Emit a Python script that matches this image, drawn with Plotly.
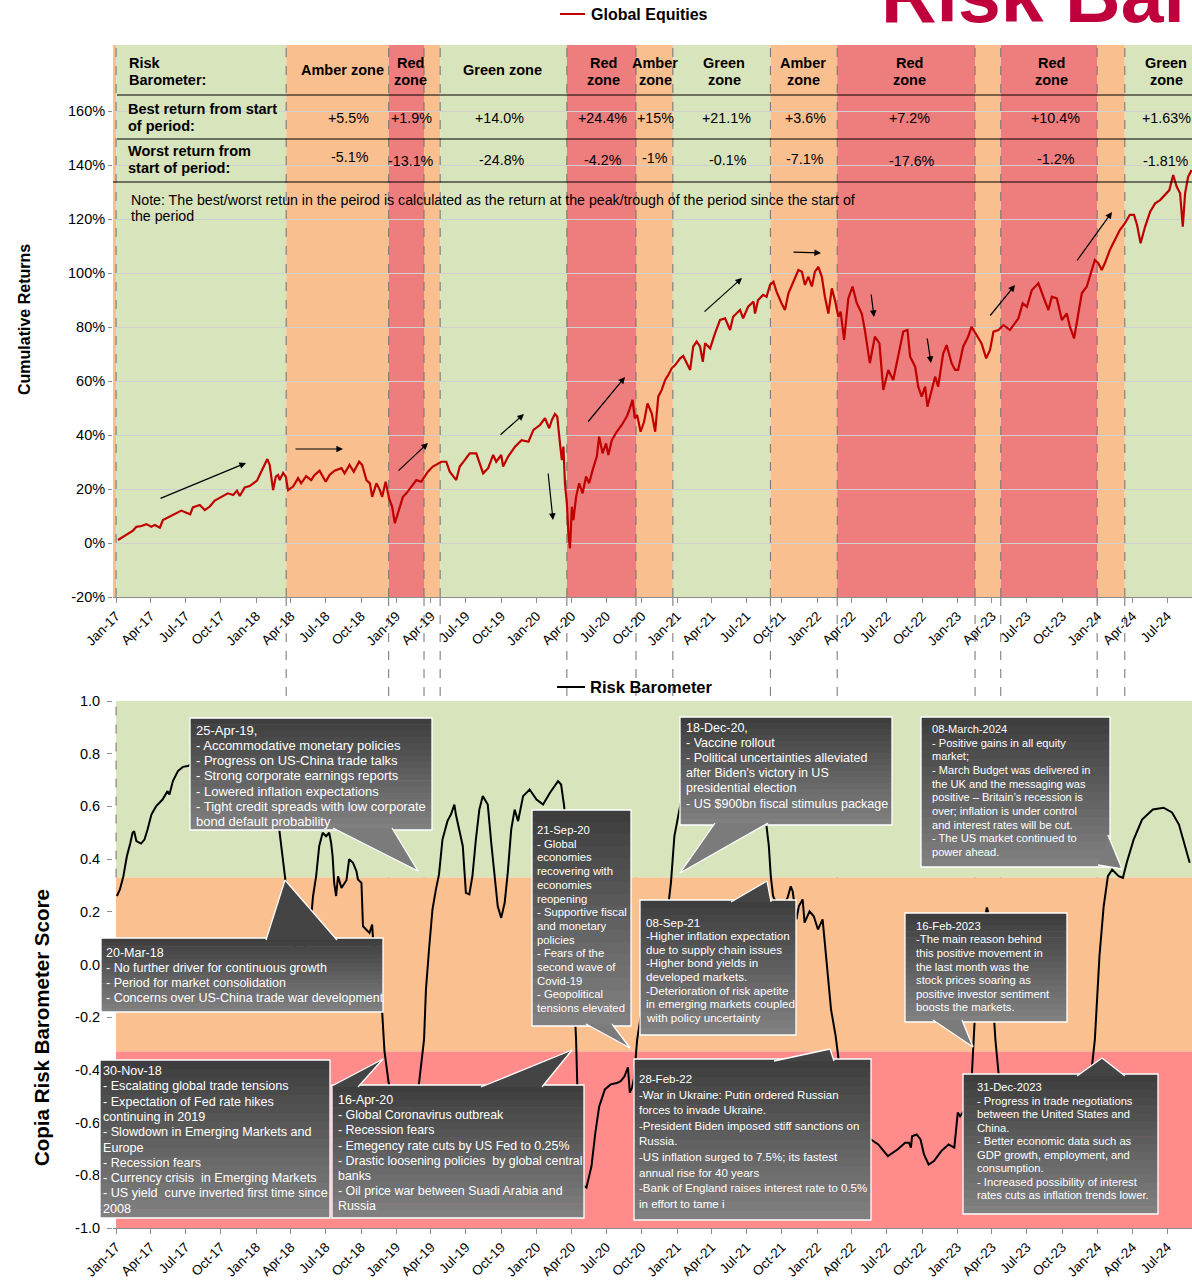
import datetime as dt
import pandas as pd
import plotly.graph_objects as go

# ---------------------------------------------------------------- data
# Global equities, cumulative return (%) by day count from the start date
EQ_START = "2017-01-01"
eq_days = [
    5, 18, 31, 44, 53, 66, 79, 92, 101, 114,
    122, 140, 157, 170, 183, 193, 200, 218, 231, 244,
    257, 274, 291, 305, 315, 322, 335, 348, 357, 367,
    378, 387, 394, 400, 409, 416, 422, 426, 435, 442,
    448, 461, 474, 482, 495, 508, 517, 530, 546, 556,
    569, 587, 595, 608, 619, 633, 641, 652, 661, 667,
    678, 687, 693, 702, 711, 719, 726, 734, 747, 756,
    769, 782, 795, 812, 825, 847, 860, 869, 886, 895,
    908, 921, 938, 947, 956, 969, 982, 990, 1003, 1008,
    1021, 1039, 1056, 1074, 1087, 1104, 1117, 1128, 1135, 1143,
    1149, 1156, 1161, 1165, 1169, 1174, 1178, 1182, 1187, 1191,
    1198, 1206, 1215, 1224, 1232, 1241, 1252, 1258, 1267, 1276,
    1282, 1291, 1304, 1317, 1330, 1338, 1345, 1351, 1357, 1366,
    1375, 1384, 1395, 1404, 1412, 1421, 1430, 1438, 1447, 1456,
    1469, 1477, 1486, 1495, 1503, 1512, 1521, 1528, 1534, 1547,
    1560, 1573, 1586, 1599, 1607, 1625, 1633, 1646, 1660, 1664,
    1672, 1685, 1694, 1703, 1712, 1720, 1733, 1742, 1751, 1764,
    1777, 1786, 1794, 1803, 1812, 1820, 1829, 1838, 1846, 1855,
    1864, 1872, 1881, 1887, 1896, 1907, 1918, 1929, 1942, 1950,
    1963, 1976, 1988, 1998, 2011, 2024, 2037, 2050, 2061, 2068,
    2081, 2089, 2098, 2107, 2113, 2120, 2133, 2141, 2154, 2163,
    2176, 2185, 2193, 2206, 2219, 2228, 2241, 2254, 2266, 2276,
    2285, 2298, 2311, 2328, 2341, 2350, 2361, 2372, 2385, 2402,
    2415, 2428, 2437, 2450, 2463, 2476, 2484, 2495, 2506, 2515,
    2528, 2541, 2549, 2558, 2567, 2575, 2588, 2601, 2614, 2627,
    2640, 2651, 2659, 2668, 2680, 2693, 2706, 2719, 2732, 2743,
    2753, 2762, 2771, 2778, 2784, 2792, 2801,
]
eq_values = [
    1.1, 2.3, 3.6, 4.6, 6.0, 6.3, 7.0, 6.0, 6.7, 5.7,
    8.5, 9.7, 11.0, 12.0, 11.2, 10.6, 13.2, 14.1, 12.2, 13.5,
    15.7, 16.9, 18.4, 17.8, 19.4, 17.4, 20.6, 21.1, 22.1, 23.1,
    26.4, 28.9, 31.1, 28.9, 19.6, 24.6, 25.2, 23.3, 26.0, 24.6,
    19.6, 20.9, 24.0, 22.1, 24.8, 23.3, 25.2, 26.8, 22.7, 25.2,
    26.8, 27.7, 25.8, 28.9, 26.4, 30.1, 28.9, 23.3, 22.1, 17.1,
    22.1, 19.6, 17.1, 22.7, 16.5, 13.4, 7.3, 11.0, 17.1, 18.4,
    20.9, 23.3, 22.7, 26.4, 28.3, 30.1, 30.1, 26.4, 23.3, 28.3,
    30.7, 33.2, 33.2, 29.5, 25.8, 27.7, 32.6, 30.1, 32.6, 28.3,
    32.0, 35.7, 38.1, 37.5, 41.9, 43.7, 46.2, 42.5, 45.6, 47.8,
    46.8, 36.9, 30.7, 35.7, 22.1, 14.7, 3.6, -2.0, 13.4, 8.5,
    17.1, 22.1, 18.4, 24.6, 22.1, 27.0, 32.0, 39.4, 33.2, 36.9,
    32.6, 38.1, 41.2, 43.7, 46.8, 49.9, 53.0, 46.2, 47.4, 41.2,
    44.9, 51.7, 48.0, 41.2, 54.2, 56.7, 60.4, 62.2, 64.7, 65.9,
    68.4, 69.3, 66.6, 64.1, 72.7, 74.6, 72.7, 67.1, 74.0, 72.1,
    77.7, 82.6, 83.2, 78.9, 83.8, 86.3, 83.2, 87.5, 89.4, 85.0,
    90.0, 91.9, 91.2, 95.6, 96.8, 93.1, 88.8, 86.3, 92.5, 96.8,
    101.1, 100.5, 95.6, 98.6, 95.0, 100.5, 102.3, 98.6, 91.2, 85.0,
    94.3, 90.0, 83.8, 85.7, 75.2, 90.6, 95.0, 88.8, 85.0, 78.9,
    66.6, 76.4, 73.9, 56.7, 64.1, 60.4, 69.0, 78.3, 78.9, 69.0,
    65.3, 57.9, 54.2, 57.9, 50.5, 54.2, 61.6, 57.9, 70.2, 73.3,
    66.6, 64.1, 64.1, 72.7, 76.4, 80.1, 77.0, 73.9, 68.4, 71.5,
    78.3, 78.9, 80.7, 78.9, 81.4, 83.2, 88.8, 87.5, 93.7, 96.2,
    91.2, 86.3, 91.2, 90.6, 82.6, 85.0, 80.1, 75.8, 85.0, 92.5,
    95.0, 101.1, 104.8, 103.6, 101.1, 103.6, 108.5, 112.2, 115.9, 118.4,
    121.5, 121.5, 117.8, 111.0, 117.2, 122.7, 125.8, 127.0, 128.9, 130.7,
    136.3, 132.0, 129.5, 117.2, 129.5, 135.7, 138.1,
]

# Copia risk barometer score
rb_dates = [
    "2017-01-03", "2017-01-11", "2017-01-20", "2017-01-29", "2017-02-07", "2017-02-13", "2017-02-17",
    "2017-02-23", "2017-03-07", "2017-03-16", "2017-03-24", "2017-04-03", "2017-04-15", "2017-05-02",
    "2017-05-15", "2017-05-20", "2017-05-29", "2017-06-11", "2017-06-24", "2017-07-07", "2017-08-07",
    "2017-09-28", "2017-11-19",
    "2018-01-10", "2018-02-06", "2018-02-22", "2018-03-02", "2018-03-17", "2018-03-28", "2018-04-15",
    "2018-05-06", "2018-05-19", "2018-05-26", "2018-05-29", "2018-06-06", "2018-06-14", "2018-06-23",
    "2018-07-02", "2018-07-10", "2018-07-15", "2018-07-19", "2018-07-23", "2018-07-28", "2018-08-02",
    "2018-08-11", "2018-08-24", "2018-08-31", "2018-09-10", "2018-09-19", "2018-09-23", "2018-10-02",
    "2018-10-06", "2018-10-15", "2018-10-23", "2018-10-30", "2018-11-01", "2018-11-14", "2018-11-25",
    "2018-12-01", "2018-12-12", "2018-12-27",
    "2019-01-23", "2019-02-13", "2019-03-01", "2019-03-14", "2019-03-19", "2019-03-27", "2019-04-05",
    "2019-04-14", "2019-04-22", "2019-05-01", "2019-05-14", "2019-05-23", "2019-06-01", "2019-06-05",
    "2019-06-14", "2019-06-23", "2019-06-27", "2019-07-01", "2019-07-10", "2019-07-18", "2019-07-27",
    "2019-08-05", "2019-08-14", "2019-08-27", "2019-09-05", "2019-09-14", "2019-09-22", "2019-10-01",
    "2019-10-10", "2019-10-18", "2019-10-27", "2019-11-05", "2019-11-14", "2019-11-27", "2019-12-14",
    "2020-01-01", "2020-01-18", "2020-02-05", "2020-02-26", "2020-03-05", "2020-03-13", "2020-03-21",
    "2020-04-01", "2020-04-09", "2020-04-13", "2020-04-16", "2020-04-22", "2020-05-02", "2020-05-10",
    "2020-05-23", "2020-06-02", "2020-06-12", "2020-06-27", "2020-07-12", "2020-07-28", "2020-08-07",
    "2020-08-17", "2020-08-26", "2020-08-31", "2020-09-06", "2020-09-11", "2020-09-19", "2020-10-09",
    "2020-11-05", "2020-11-26", "2020-12-11", "2020-12-16", "2020-12-25",
    "2021-01-22", "2021-03-01", "2021-04-22", "2021-06-13", "2021-07-22", "2021-08-10", "2021-08-22",
    "2021-08-28", "2021-09-02", "2021-09-08", "2021-09-26", "2021-10-16", "2021-10-24", "2021-10-29",
    "2021-11-08", "2021-11-14", "2021-11-24", "2021-11-29", "2021-12-12", "2021-12-23",
    "2022-01-03", "2022-01-15", "2022-01-26", "2022-02-06", "2022-02-18", "2022-03-01", "2022-03-26",
    "2022-04-26", "2022-05-21", "2022-06-09", "2022-07-04", "2022-07-29", "2022-08-18", "2022-08-28",
    "2022-09-02", "2022-09-05", "2022-09-17", "2022-09-27", "2022-10-06", "2022-10-18", "2022-11-01",
    "2022-11-20", "2022-12-09", "2022-12-24",
    "2023-01-02", "2023-01-08", "2023-01-21", "2023-02-01", "2023-02-08", "2023-02-13", "2023-02-19",
    "2023-03-01", "2023-03-12", "2023-03-19", "2023-03-25", "2023-04-02", "2023-04-10", "2023-04-18",
    "2023-05-17", "2023-07-08", "2023-08-30", "2023-10-21", "2023-11-29", "2023-12-18", "2023-12-25",
    "2024-01-06", "2024-01-17", "2024-01-28", "2024-02-08", "2024-02-25", "2024-03-07", "2024-03-17",
    "2024-04-04", "2024-04-26", "2024-05-24", "2024-06-21", "2024-07-13", "2024-07-31", "2024-08-16",
    "2024-08-28",
]
rb_values = [
    0.26, 0.285, 0.335, 0.41, 0.46, 0.50, 0.506,
    0.468, 0.459, 0.474, 0.512, 0.569, 0.60, 0.626,
    0.658, 0.645, 0.696, 0.734, 0.75, 0.753, 0.78,
    0.80, 0.82,
    0.85, 0.70, 0.60, 0.512, 0.323, 0.20, 0.05,
    0.05, 0.15, 0.21, 0.26, 0.335, 0.449, 0.50,
    0.487, 0.50, 0.462, 0.41, 0.31, 0.26, 0.335,
    0.29, 0.32, 0.40, 0.386, 0.354, 0.323, 0.31,
    0.145, 0.133, 0.12, 0.152, 0.10, 0.0, -0.18,
    -0.33, -0.45, -0.55,
    -0.60, -0.55, -0.45, -0.285, -0.095, 0.057, 0.209,
    0.285, 0.342, 0.474, 0.544, 0.569, 0.607, 0.569,
    0.512, 0.449, 0.36, 0.272, 0.266, 0.335, 0.474,
    0.588, 0.639, 0.607, 0.462, 0.323, 0.221, 0.177,
    0.234, 0.348, 0.512, 0.588, 0.544, 0.639, 0.664,
    0.626, 0.607, 0.652, 0.696, 0.683, 0.60, 0.45,
    0.10, -0.20, -0.285, -0.45, -0.70, -0.84, -0.846,
    -0.766, -0.64, -0.54, -0.474, -0.455, -0.45, -0.443,
    -0.425, -0.39, -0.486, -0.466, -0.43, -0.285, -0.10,
    0.05, 0.15, 0.247, 0.31, 0.487,
    0.70, 0.82, 0.85, 0.82, 0.70, 0.60, 0.525,
    0.449, 0.335, 0.26, 0.20, 0.254, 0.297, 0.278,
    0.171, 0.221, 0.247, 0.159, 0.202, 0.183,
    0.133, 0.171, -0.006, -0.171, -0.272, -0.40, -0.55,
    -0.62, -0.664, -0.683, -0.727, -0.702, -0.676, -0.676,
    -0.695, -0.652, -0.645, -0.664, -0.721, -0.759, -0.746,
    -0.708, -0.683, -0.695,
    -0.562, -0.576, -0.55, -0.48, -0.41, -0.285, -0.10,
    0.05, 0.17, 0.216, 0.18, -0.10, -0.285, -0.41,
    -0.55, -0.62, -0.65, -0.60, -0.50, -0.38, -0.285,
    0.032, 0.221, 0.335, 0.36, 0.335, 0.329, 0.386,
    0.474, 0.55, 0.588, 0.595, 0.577, 0.531, 0.449,
    0.386,
]

# Risk-barometer regimes shown behind the equity line
zone_starts = ["2016-12-24", "2017-01-01", "2018-03-20", "2018-12-12", "2019-03-14", "2019-04-25",
               "2020-03-20", "2020-09-16", "2020-12-21", "2021-09-01", "2022-02-22", "2023-02-16",
               "2023-04-24", "2023-12-31", "2024-03-12"]
zone_ends = zone_starts[1:] + ["2024-09-03"]
zone_kinds = ["amber", "green", "amber", "red", "amber", "green", "red", "amber", "green", "amber",
              "red", "amber", "red", "amber", "green"]

# Score bands of the barometer
band_low = [0.33, -0.33, -1.0]
band_high = [1.0, 0.33, -0.33]
band_kinds = ["green", "amber", "red"]

# Summary table above the equity line
header_labels = ["Amber zone", "Red<br>zone", "Green zone", "Red<br>zone", "Amber<br>zone",
                 "Green<br>zone", "Amber<br>zone", "Red<br>zone", "Red<br>zone", "Green<br>zone"]
best_returns = ["+5.5%", "+1.9%", "+14.0%", "+24.4%", "+15%", "+21.1%", "+3.6%", "+7.2%",
                "+10.4%", "+1.63%"]
worst_returns = ["-5.1%", "-13.1%", "-24.8%", "-4.2%", "-1%", "-0.1%", "-7.1%", "-17.6%",
                 "-1.2%", "-1.81%"]

eq_ticks = [-20, 0, 20, 40, 60, 80, 100, 120, 140, 160]
rb_ticks = [-1.0, -0.8, -0.6, -0.4, -0.2, 0.0, 0.2, 0.4, 0.6, 0.8, 1.0]

eq_dates = pd.Timestamp(EQ_START) + pd.to_timedelta(eq_days, unit="D")

# ---------------------------------------------------------------- layout helpers
FONT = "Liberation Sans"
W, H = 1192, 1282
ML, MR, MT, MB = 113, 0, 45, 54
PW, PH = W - ML - MR, H - MT - MB
X_RANGE = ["2016-12-24", "2024-09-03"]
EQ_TOP = -20 + 552 / 2.7

ZONE_FILL = {"green": "#D8E4BC", "amber": "#FABF8F", "red": "#EE7D7D"}
BAND_FILL = {"green": "#D8E4BC", "amber": "#FAC08F", "red": "#FF8B8B"}
DASH_COLOR = "#707070"


def fx(px):
    return (px - ML) / PW


def fy(py):
    return (H - MB - py) / PH


_d0 = dt.date.fromisoformat(X_RANGE[0])
_d1 = dt.date.fromisoformat(X_RANGE[1])


def date_fx(d):
    return (dt.date.fromisoformat(d) - _d0).days / (_d1 - _d0).days


shapes = []
annotations = []


def text(px, py, s, size=13, bold=False, color="black", xanchor="left", yanchor="middle",
         align="left", angle=0):
    annotations.append(dict(
        x=fx(px), y=fy(py), xref="paper", yref="paper", text=f"<b>{s}</b>" if bold else s,
        showarrow=False, xanchor=xanchor, yanchor=yanchor, align=align, textangle=angle,
        font=dict(family=FONT, size=size, color=color)))


def lines_text(px, py_first, step, lines, **kw):
    for i, ln in enumerate(lines):
        text(px, py_first + i * step, ln, **kw)


def arrow(x0, y0, x1, y1):
    annotations.append(dict(
        x=fx(x1), y=fy(y1), xref="paper", yref="paper", ax=x0 - x1, ay=y0 - y1,
        axref="pixel", ayref="pixel", text="", showarrow=True, arrowhead=2, arrowsize=1.1,
        arrowwidth=1.2, arrowcolor="black", standoff=0, startstandoff=0))


def pline(x0, y0, x1, y1, color, width=1, dash="solid", layer="above"):
    shapes.append(dict(type="line", xref="paper", yref="paper", x0=fx(x0), y0=fy(y0),
                       x1=fx(x1), y1=fy(y1), layer=layer,
                       line=dict(color=color, width=width, dash=dash)))


# ---------------------------------------------------------------- background zones
for s, e, k in zip(zone_starts, zone_ends, zone_kinds):
    shapes.append(dict(type="rect", xref="x", yref="y domain", x0=s, x1=e, y0=0, y1=1,
                       fillcolor=ZONE_FILL[k], line=dict(width=0), layer="below"))
for lo, hi, k in zip(band_low, band_high, band_kinds):
    shapes.append(dict(type="rect", xref="x2", yref="y2", x0="2017-01-01", x1=X_RANGE[1],
                       y0=lo, y1=hi, fillcolor=BAND_FILL[k], line=dict(width=0), layer="below"))

# dashed regime boundaries, running through both panels
for d in zone_starts[1:]:
    dash_line = dict(color=DASH_COLOR, width=1, dash="dash")
    shapes.append(dict(type="line", xref="x", yref="y domain", x0=d, x1=d, y0=0, y1=1,
                       line=dash_line, layer="below"))
    if d == "2017-01-01":
        shapes.append(dict(type="line", xref="x2", yref="y2", x0=d, x1=d, y0=0.33, y1=1,
                           line=dash_line, layer="below"))
        continue
    shapes.append(dict(type="line", xref="x2", yref="y2 domain", x0=d, x1=d, y0=0, y1=1,
                       line=dash_line, layer="below"))
    shapes.append(dict(type="line", xref="paper", yref="paper", x0=date_fx(d), x1=date_fx(d),
                       y0=fy(597), y1=fy(701), line=dash_line, layer="below"))

# ---------------------------------------------------------------- summary table
pline(117, 95, W, 95, "black")
pline(117, 139, W, 139, "black")
pline(113, 182, W, 182, "black")

lines_text(127, 63, 17, ["Risk", "Barometer:"], size=14.5, bold=True)
lines_text(126, 109, 17, ["Best return from start", "of period:"], size=14.5, bold=True)
lines_text(126, 151, 17, ["Worst return from", "start of period:"], size=14.5, bold=True)

header_x = [342, 410, 502, 603, 655, 724, 803, 909, 1051, 1166]
best_x = [348, 411, 499, 602, 655, 726, 805, 909, 1055, 1166]
worst_x = [350, 411, 502, 603, 655, 728, 805, 912, 1056, 1166]
worst_y = [157, 161, 160, 160, 158, 160, 159, 161, 159, 161]
for lbl, x in zip(header_labels, header_x):
    parts = lbl.split("<br>")
    if len(parts) == 1:
        text(x, 70, parts[0], size=14.5, bold=True, xanchor="center")
    else:
        lines_text(x, 63, 17.5, parts, size=14.5, bold=True, xanchor="center")
for lbl, x in zip(best_returns, best_x):
    text(x, 118, lbl, size=14.3, xanchor="center")
for lbl, x, y in zip(worst_returns, worst_x, worst_y):
    text(x, y, lbl, size=14.3, xanchor="center")

text(129, 200, "Note: The best/worst retun in the peirod is calculated as the return at the "
               "peak/trough of the period since the start of", size=14.2)
text(129, 216, "the period", size=14.2)

# trend arrows on the equity panel
for a in [(159, 499, 246, 463), (294, 449, 343, 449), (397, 472, 428, 443),
          (499, 436, 524, 414), (548, 472, 553, 520), (587, 423, 625, 377),
          (703, 313, 742, 278), (792, 252, 821, 253), (871, 293, 874, 317),
          (927, 337, 931, 363), (989, 317, 1015, 285), (1076, 262, 1112, 212)]:
    arrow(*a)

# ---------------------------------------------------------------- titles and legends
text(879, -5, "Risk Barometer", size=77, bold=True, color="#C0003C")
pline(560, 14, 585, 14, "#C00000", width=2)
text(589, 14, "Global Equities", size=16, bold=True)
pline(557, 687, 585, 687, "black", width=2)
text(588, 687, "Risk Barometer", size=16.5, bold=True)
text(24, 320, "Cumulative Returns", size=16, bold=True, xanchor="center", angle=-90)
text(41, 1028, "Copia Risk Barometer Score", size=20.5, bold=True, xanchor="center", angle=-90)

# ---------------------------------------------------------------- commentary callouts
callouts = [
    dict(rect=(190, 718, 432, 830), wedge=((333, 828), (418, 871), (392, 828)), top=False,
         left=194, first=730, step=15.3, size=13.0,
         lines=["25-Apr-19,", "- Accommodative monetary policies", "- Progress on US-China trade talks",
                "- Strong corporate earnings reports", "- Lowered inflation expectations",
                "- Tight credit spreads with low corporate", "bond default probability"]),
    dict(rect=(101, 938, 383, 1012), wedge=((266, 940), (285, 880), (337, 940)), top=True,
         left=104, first=953, step=15.1, size=12.5,
         lines=["20-Mar-18", "- No further driver for continuous growth",
                "- Period for market consolidation",
                "- Concerns over US-China trade war development"]),
    dict(rect=(532, 810, 631, 1026), wedge=((586, 1024), (630, 1048), (612, 1024)), top=False,
         left=535, first=830, step=13.7, size=11.3,
         lines=["21-Sep-20", "- Global", "economies", "recovering with", "economies", "reopening",
                "- Supportive fiscal", "and monetary", "policies", "- Fears of the",
                "second wave of", "Covid-19", "- Geopolitical", "tensions elevated"]),
    dict(rect=(680, 717, 892, 825), wedge=((715, 823), (680, 873), (768, 823)), top=False,
         left=684, first=728, step=15.1, size=12.5,
         lines=["18-Dec-20,", "- Vaccine rollout", "- Political uncertainties alleviated",
                "after Biden's victory in US", "presidential election",
                "- US $900bn fiscal stimulus package"]),
    dict(rect=(640, 900, 796, 1035), wedge=((731, 902), (767, 881), (771, 902)), top=True,
         left=644, first=922, step=13.6, size=11.6,
         lines=["08-Sep-21", "-Higher inflation expectation", "due to supply chain issues",
                "-Higher bond yields in", "developed markets.", "-Deterioration of risk apetite",
                "in emerging markets coupled", "with policy uncertainty"]),
    dict(rect=(921, 717, 1110, 867), wedge=((1108, 835), (1122, 869), (1098, 865)), top=False,
         left=930, first=729, step=13.65, size=11.1,
         lines=["08-March-2024", "- Positive gains in all equity", "market;",
                "- March Budget was delivered in", "the UK and the messaging was",
                "positive \u2013 Britain\u2019s recession is", "over; inflation is under control",
                "and interest rates will be cut.", "- The US market continued to", "power ahead."]),
    dict(rect=(905, 913, 1067, 1022), wedge=((933, 1020), (973, 1047), (962, 1020)), top=False,
         left=914, first=926, step=13.5, size=11.3,
         lines=["16-Feb-2023", "-The main reason behind", "this positive movement in",
                "the last month was the", "stock prices soaring as", "positive investor sentiment",
                "boosts the markets."]),
    dict(rect=(100, 1060, 330, 1218), wedge=((330, 1087), (383, 1059), (358, 1087)), top=True,
         left=101, first=1071, step=15.3, size=12.6,
         lines=["30-Nov-18", "- Escalating global trade tensions", "- Expectation of Fed rate hikes",
                "continuing in 2019", "- Slowdown in Emerging Markets and", "Europe",
                "- Recession fears", "- Currency crisis  in Emerging Markets",
                "- US yield  curve inverted first time since", "2008"]),
    dict(rect=(332, 1085, 584, 1218), wedge=((481, 1087), (572, 1050), (542, 1087)), top=True,
         left=336, first=1100, step=15.2, size=12.4,
         lines=["16-Apr-20", "- Global Coronavirus outbreak", "- Recession fears",
                "- Emegency rate cuts by US Fed to 0.25%",
                "- Drastic loosening policies  by global central", "banks",
                "- Oil price war between Suadi Arabia and", "Russia"]),
    dict(rect=(634, 1059, 871, 1220), wedge=((774, 1061), (830, 1049), (834, 1061)), top=True,
         left=637, first=1079, step=15.6, size=11.5,
         lines=["28-Feb-22", "-War in Ukraine: Putin ordered Russian", "forces to invade Ukraine.",
                "-President Biden imposed stiff sanctions on", "Russia.",
                "-US inflation surged to 7.5%; its fastest", "annual rise for 40 years",
                "-Bank of England raises interest rate to 0.5%", "in effort to tame i"]),
    dict(rect=(963, 1074, 1158, 1214), wedge=((1077, 1076), (1102, 1058), (1125, 1076)), top=True,
         left=975, first=1087, step=13.5, size=11.2,
         lines=["31-Dec-2023", "- Progress in trade negotiations", "between the United States and",
                "China.", "- Better economic data such as", "GDP growth, employment, and",
                "consumption.", "- Increased possibility of interest",
                "rates cuts as inflation trends lower."]),
]

TOP_RGB, BOT_RGB = (60, 60, 60), (130, 130, 130)
N_STRIPS = 18


def shade(t):
    c = [round(a + (b - a) * t) for a, b in zip(TOP_RGB, BOT_RGB)]
    return f"rgb({c[0]},{c[1]},{c[2]})"


for c in callouts:
    l, t, r, b = c["rect"]
    for i in range(N_STRIPS):
        y0 = t + (b - t) * i / N_STRIPS
        y1 = t + (b - t) * (i + 1) / N_STRIPS + 0.6
        shapes.append(dict(type="rect", xref="paper", yref="paper", x0=fx(l), x1=fx(r),
                           y0=fy(y0), y1=fy(min(y1, b)), fillcolor=shade((i + 0.5) / N_STRIPS),
                           line=dict(width=0), layer="above"))
    shapes.append(dict(type="rect", xref="paper", yref="paper", x0=fx(l), x1=fx(r),
                       y0=fy(t), y1=fy(b), line=dict(color="white", width=1.3), layer="above"))

for c in callouts:
    (ax_, ay_), (tx, ty), (bx, by) = c["wedge"]
    fill = shade(0.12) if c["top"] else shade(0.9)
    path = (f"M {fx(ax_)} {fy(ay_)} L {fx(tx)} {fy(ty)} L {fx(bx)} {fy(by)} Z")
    shapes.append(dict(type="path", xref="paper", yref="paper", path=path, fillcolor=fill,
                       line=dict(width=0), layer="above"))
    pline(ax_, ay_, tx, ty, "white", width=1.3)
    pline(tx, ty, bx, by, "white", width=1.3)

for c in callouts:
    lines_text(c["left"], c["first"], c["step"], c["lines"], size=c["size"], color="white")

# ---------------------------------------------------------------- figure
fig = go.Figure()
fig.add_trace(go.Scatter(x=eq_dates, y=eq_values, mode="lines", name="Global Equities",
                         line=dict(color="#C00000", width=2.2), xaxis="x", yaxis="y",
                         showlegend=False))
fig.add_trace(go.Scatter(x=rb_dates, y=rb_values, mode="lines", name="Risk Barometer",
                         line=dict(color="black", width=2), xaxis="x2", yaxis="y2",
                         showlegend=False))

x_common = dict(type="date", range=X_RANGE, tick0="2017-01-01", dtick="M3", tickformat="%b-%y",
                tickangle=-45, ticks="outside", ticklen=5, tickcolor="#8C8C8C", showline=True,
                linecolor="#8C8C8C", linewidth=1, showgrid=False, zeroline=False,
                tickfont=dict(family=FONT, size=13.5, color="black"))
fig.update_layout(
    width=W, height=H,
    margin=dict(l=ML, r=MR, t=MT, b=MB),
    paper_bgcolor="white", plot_bgcolor="rgba(0,0,0,0)",
    font=dict(family=FONT, color="black"),
    xaxis=dict(x_common, domain=[0, 1], anchor="y"),
    xaxis2=dict(x_common, domain=[0, 1], anchor="y2"),
    yaxis=dict(domain=[fy(597), 1.0], range=[-20, EQ_TOP], anchor="x", tickvals=eq_ticks,
               ticktext=[f"{v}%" for v in eq_ticks], showgrid=True, gridcolor="#D0D0D0",
               gridwidth=1, zeroline=False, showline=False, ticks="outside", ticklen=4,
               tickcolor="#8C8C8C", tickfont=dict(family=FONT, size=14.5, color="black")),
    yaxis2=dict(domain=[0, fy(701)], range=[-1, 1], anchor="x2", tickvals=rb_ticks,
                ticktext=[f"{v:.1f}" for v in rb_ticks], showgrid=False, zeroline=False,
                showline=False, ticks="outside", ticklen=5, tickcolor="#8C8C8C",
                ticklabelstandoff=4,
                tickfont=dict(family=FONT, size=14.5, color="black")),
    shapes=shapes,
    annotations=annotations,
    showlegend=False,
)

fig.write_html("out.html")
